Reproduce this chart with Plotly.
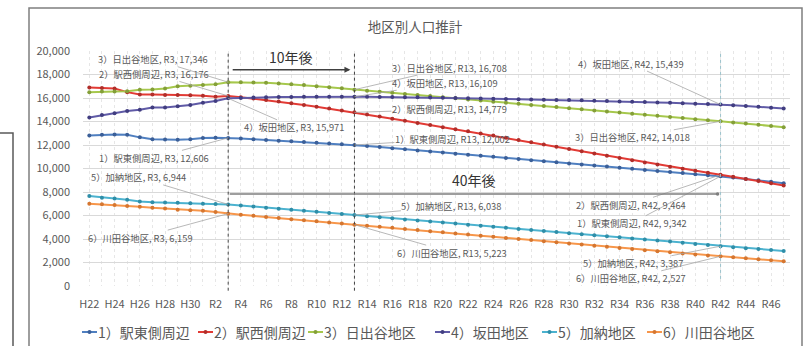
import plotly.graph_objects as go

# ---- data -------------------------------------------------------------
years = list(range(2010, 2066))
periods = [f"H{n}" for n in range(22, 31)] + [f"R{n}" for n in range(1, 48)]

district_names = ["1）駅東側周辺", "2）駅西側周辺", "3）日出谷地区",
                  "4）坂田地区", "5）加納地区", "6）川田谷地区"]

pop_east = [12800, 12870, 12900, 12880, 12650, 12500, 12460, 12450, 12490, 12600, 12620, 12606,
            12550, 12490, 12430, 12370, 12310, 12250, 12190, 12130, 12070, 12002,
            11910, 11820, 11725, 11635, 11540, 11450, 11355, 11265, 11170, 11080,
            10990, 10895, 10805, 10710, 10620, 10525, 10435, 10340, 10250, 10160,
            10065, 9975, 9880, 9790, 9700, 9610, 9520, 9430, 9342,
            9230, 9110, 8990, 8870, 8750]

pop_west = [16900, 16850, 16800, 16500, 16300, 16300, 16250, 16250, 16230, 16200, 16100, 16176,
            16070, 15950, 15825, 15695, 15555, 15410, 15260, 15100, 14935, 14779,
            14600, 14420, 14240, 14060, 13880, 13700, 13520, 13340, 13160, 12980,
            12800, 12610, 12420, 12230, 12040, 11850, 11660, 11470, 11280, 11090,
            10900, 10710, 10520, 10330, 10150, 9970, 9800, 9630, 9464,
            9295, 9110, 8930, 8745, 8560]

pop_hidashiya = [16500, 16550, 16560, 16580, 16700, 16720, 16800, 17000, 17050, 17100, 17180, 17346,
                 17340, 17320, 17290, 17240, 17180, 17100, 17010, 16920, 16820, 16708,
                 16620, 16530, 16440, 16345, 16250, 16160, 16065, 15970, 15880, 15785,
                 15690, 15600, 15505, 15410, 15320, 15225, 15130, 15040, 14945, 14850,
                 14760, 14665, 14575, 14480, 14390, 14295, 14200, 14110, 14018,
                 13920, 13820, 13720, 13620, 13520]

pop_sakata = [14350, 14550, 14700, 14900, 15000, 15200, 15200, 15300, 15400, 15600, 15750, 15971,
              16010, 16040, 16060, 16080, 16090, 16100, 16110, 16110, 16110, 16109,
              16100, 16090, 16080, 16070, 16060, 16040, 16020, 16000, 15980, 15960,
              15940, 15920, 15900, 15880, 15860, 15840, 15820, 15800, 15770, 15740,
              15710, 15680, 15650, 15620, 15590, 15560, 15520, 15480, 15439,
              15380, 15320, 15250, 15180, 15100]

pop_kano = [7650, 7520, 7450, 7350, 7200, 7130, 7100, 7080, 7050, 7000, 6980, 6944,
            6850, 6760, 6670, 6580, 6490, 6400, 6310, 6220, 6130, 6038,
            5945, 5850, 5760, 5670, 5580, 5490, 5400, 5310, 5220, 5130,
            5040, 4950, 4860, 4770, 4680, 4590, 4500, 4410, 4320, 4230,
            4140, 4050, 3960, 3870, 3780, 3680, 3580, 3480, 3387,
            3300, 3220, 3140, 3060, 2980]

pop_kawataya = [7000, 6950, 6900, 6800, 6750, 6650, 6600, 6500, 6450, 6400, 6300, 6159,
                6065, 5970, 5880, 5785, 5690, 5600, 5505, 5410, 5315, 5223,
                5130, 5040, 4950, 4855, 4760, 4665, 4570, 4475, 4380, 4285,
                4190, 4095, 4000, 3905, 3810, 3715, 3620, 3525, 3430, 3335,
                3240, 3145, 3050, 2955, 2865, 2775, 2690, 2605, 2527,
                2440, 2355, 2270, 2185, 2100]

series = [pop_east, pop_west, pop_hidashiya, pop_sakata, pop_kano, pop_kawataya]

# labelled periods: now, 10 years later, 40 years later
labelled_periods = ["R3", "R13", "R42"]

# ---- styling ------------------------------------------------------------
W, H = 811, 346
ML, MR, MT, MB = 83, 21, 51, 60
PW, PH = W - ML - MR, H - MT - MB

line_colors = ["#4F7FC0", "#E23A34", "#A6C84C", "#5F5AA6", "#4BB2CF", "#F7964A"]
marker_colors = ["#3B5F98", "#B02E2A", "#849F38", "#413D80", "#2F8EA8", "#D57630"]

# label offsets (px) from each point, per series, per labelled period
label_offsets = {
    "R3":  [(-74, 20), (-74, -22), (-75, -23), (66, 29), (-90, -27), (-88, 24)],
    "R13": [(98, -6), (95, -3), (95, -22), (91, -14), (97, -9), (98, 28)],
    "R42": [(-89, 47), (-90, 30), (-88, 16), (-90, -41), (-88, 17), (-90, 22)],
}

# horizontal legend row: left edge of each entry's swatch (px) and row centre
legend_left = [82, 198, 308, 435, 542, 647]
legend_row_y = 332

FONT = "Noto Sans CJK JP"
GRAY = "#595959"


def px_x(p):
    return (p - ML) / PW


def px_y(p):
    return (H - MB - p) / PH


fig = go.Figure()

for name, vals, lc, mc in zip(district_names, series, line_colors, marker_colors):
    fig.add_trace(go.Scatter(
        x=years, y=vals, name=name, mode="lines+markers",
        line=dict(color=lc, width=2),
        marker=dict(color=mc, size=4),
        showlegend=False,
    ))

annotations = []
for period in labelled_periods:
    idx = periods.index(period)
    yr = years[idx]
    for s, (name, vals) in enumerate(zip(district_names, series)):
        ax, ay = label_offsets[period][s]
        annotations.append(dict(
            x=yr, y=vals[idx], xref="x", yref="y",
            text=f"{name}, {period}, {vals[idx]:,}",
            showarrow=True, arrowhead=0, arrowwidth=0.8, arrowcolor="#a6a6a6",
            ax=ax, ay=ay, standoff=0, borderpad=0,
            font=dict(family=FONT, size=9.3, color=GRAY),
        ))

yr_now = years[periods.index("R3")]
yr_10 = years[periods.index("R13")]
yr_40 = years[periods.index("R42")]

# span arrows
annotations.append(dict(
    x=yr_10, y=18400, ax=yr_now, ay=18400, xref="x", yref="y", axref="x", ayref="y",
    text="", showarrow=True, arrowhead=2, arrowsize=0.8, arrowwidth=1.5,
    arrowcolor="#404040", standoff=4, startstandoff=3,
))
annotations.append(dict(
    x=(yr_now + yr_10) / 2, y=18400, xref="x", yref="y", yanchor="bottom", yshift=1,
    text="10年後", showarrow=False, font=dict(family=FONT, size=14, color="#333333"),
))
annotations.append(dict(
    x=yr_40, y=7830, ax=yr_now, ay=7830, xref="x", yref="y", axref="x", ayref="y",
    text="", showarrow=True, arrowhead=6, arrowsize=0.6, arrowwidth=1.5,
    arrowcolor="#7f7f7f", standoff=3, startstandoff=0,
))
annotations.append(dict(
    x=(yr_now + yr_40) / 2, y=7830, xref="x", yref="y", yanchor="bottom", yshift=2,
    text="40年後", showarrow=False, font=dict(family=FONT, size=14, color="#333333"),
))

shapes = [
    # reference lines at the labelled periods
    dict(type="line", xref="x", yref="paper", x0=yr_now, x1=yr_now, y0=-0.02, y1=1,
         line=dict(color="#404040", width=1, dash="dot")),
    dict(type="line", xref="x", yref="paper", x0=yr_10, x1=yr_10, y0=-0.02, y1=1,
         line=dict(color="#404040", width=1, dash="dot")),
    dict(type="line", xref="x", yref="paper", x0=yr_40, x1=yr_40, y0=0.03, y1=1,
         line=dict(color="#9cc3cc", width=1, dash="dot")),
    # chart frame
    dict(type="rect", xref="paper", yref="paper",
         x0=px_x(29), x1=px_x(802), y0=px_y(380), y1=px_y(8),
         line=dict(color="#7f7f7f", width=1.5), layer="below"),
    # neighbouring panel edge
    dict(type="rect", xref="paper", yref="paper",
         x0=px_x(-20), x1=px_x(13), y0=px_y(380), y1=px_y(133),
         line=dict(color="#595959", width=1.5), layer="below"),
]

# legend row: short line swatch with a marker dot, followed by the series name
for name, lc, mc, left in zip(district_names, line_colors, marker_colors, legend_left):
    shapes.append(dict(type="line", xref="paper", yref="paper",
                       x0=px_x(left), x1=px_x(left + 15),
                       y0=px_y(legend_row_y), y1=px_y(legend_row_y),
                       line=dict(color=lc, width=2)))
    shapes.append(dict(type="circle", xref="paper", yref="paper",
                       x0=px_x(left + 5.5), x1=px_x(left + 9.5),
                       y0=px_y(legend_row_y - 2), y1=px_y(legend_row_y + 2),
                       fillcolor=mc, line=dict(width=0)))
    annotations.append(dict(
        x=px_x(left + 14), y=px_y(legend_row_y), xref="paper", yref="paper",
        xanchor="left", yanchor="middle", showarrow=False, text=name,
        font=dict(family=FONT, size=14, color=GRAY),
    ))

fig.update_layout(
    width=W, height=H,
    margin=dict(l=ML, r=MR, t=MT, b=MB),
    paper_bgcolor="white", plot_bgcolor="white",
    font=dict(family=FONT, color=GRAY),
    title=dict(text="地区別人口推計", x=415 / W, xanchor="center",
               y=1 - 27 / H, yanchor="middle", xref="container", yref="container",
               font=dict(family=FONT, size=13.5, color=GRAY)),
    xaxis=dict(range=[years[0] - 0.5, years[-1] + 0.5],
               tickmode="array", tickvals=years[::2], ticktext=periods[::2],
               showgrid=True, gridcolor="#e6e6e6", griddash="dot", gridwidth=1,
               minor=dict(tickmode="linear", tick0=years[1], dtick=2, showgrid=True,
                          gridcolor="#e6e6e6", griddash="dot"),
               zeroline=False, showline=False, ticks="",
               tickfont=dict(family=FONT, size=11, color=GRAY),
               ticklabelstandoff=10, fixedrange=True),
    yaxis=dict(range=[0, 20000], dtick=2000, tickformat=",",
               showgrid=True, gridcolor="#d9d9d9", gridwidth=1,
               zeroline=False, showline=False, ticks="",
               tickfont=dict(family=FONT, size=11, color=GRAY),
               ticklabelstandoff=12, fixedrange=True),
    annotations=annotations,
    shapes=shapes,
    showlegend=False,
)

fig.write_html("out.html")
